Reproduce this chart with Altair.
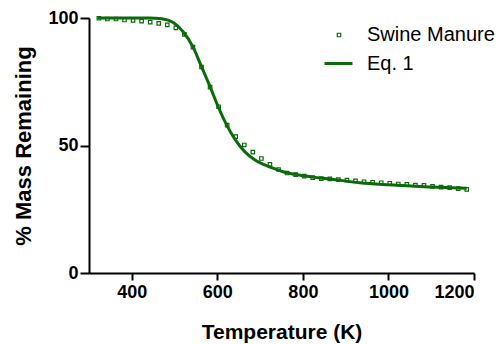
import altair as alt
import pandas as pd

GREEN = "#0b6b0b"
FONT = "Liberation Sans"

# Measured data (Swine Manure)
temp_pts = [323, 343, 363, 383, 403, 423, 443, 463, 483, 503, 523, 543, 563, 583, 603,
            623, 643, 663, 683, 703, 723, 743, 763, 783, 803, 823, 843, 863, 883, 903,
            923, 943, 963, 983, 1003, 1023, 1043, 1063, 1083, 1103, 1123, 1143, 1163, 1183]
mass_pts = [99.9, 99.6, 99.6, 99.2, 99.1, 98.8, 98.4, 97.9, 97.3, 96.1, 93.6, 88.6, 80.8, 72.9, 65.2,
            58.0, 53.5, 50.2, 47.4, 44.9, 42.6, 40.6, 39.2, 38.6, 38.0, 37.4, 37.0, 36.9, 36.6, 36.4,
            36.1, 35.8, 35.6, 35.4, 35.2, 34.9, 34.8, 34.5, 34.4, 34.0, 33.7, 33.5, 33.1, 32.8]

# Fitted curve (Eq. 1)
temp_fit = [320, 380, 440, 470, 497, 520, 543, 563, 583, 602, 622, 641, 664, 688, 711,
            735, 758, 781, 805, 828, 851, 933, 1000, 1074, 1183]
mass_fit = [100.0, 100.0, 100.0, 99.7, 98.2, 94.6, 88.7, 80.9, 73.1, 65.2, 58.0, 52.5, 47.6, 44.3, 42.4,
            40.8, 39.5, 38.7, 38.0, 37.5, 37.1, 35.4, 34.6, 33.9, 33.2]

x_ticks = [400, 600, 800, 1000, 1200]
y_ticks = [0, 50, 100]

df_pts = pd.DataFrame({"T": temp_pts, "M": mass_pts, "series": "Swine Manure"})
df_fit = pd.DataFrame({"T": temp_fit, "M": mass_fit, "series": "Eq. 1"})

xenc = alt.X("T:Q", scale=alt.Scale(domain=[300, 1200], nice=False, zero=False),
             axis=alt.Axis(values=x_ticks, format="d", title="Temperature (K)", titlePadding=20,
                           labelPadding=3, tickSize=7, titleFontSize=21))
yenc = alt.Y("M:Q", scale=alt.Scale(domain=[0, 100], nice=False),
             axis=alt.Axis(values=y_ticks, format="d", title="% Mass Remaining", titlePadding=12,
                           labelPadding=2, tickSize=9, titleFontSize=22))

pts = alt.Chart(df_pts).mark_point(shape="square", filled=False, size=12, strokeWidth=1.2, opacity=1).encode(
    x=xenc, y=yenc,
    color=alt.Color("series:N", scale=alt.Scale(domain=["Swine Manure"], range=[GREEN]),
                    legend=alt.Legend(title=None, orient="none", legendX=240, legendY=7,
                                      symbolType="square", symbolSize=12, symbolStrokeWidth=1.2,
                                      labelOffset=18, labelFontSize=20, labelFont=FONT,
                                      labelColor="black", labelFontWeight="normal"))
)

line = alt.Chart(df_fit).mark_line(strokeWidth=3, interpolate="monotone").encode(
    x=xenc, y=yenc,
    color=alt.Color("series:N", scale=alt.Scale(domain=["Eq. 1"], range=[GREEN]),
                    legend=alt.Legend(title=None, orient="none", legendX=234, legendY=30,
                                      symbolType="stroke", symbolSize=784, symbolStrokeWidth=3,
                                      labelOffset=13, labelFontSize=20, labelFont=FONT,
                                      labelColor="black", labelFontWeight="normal"))
)

chart = alt.layer(pts, line).resolve_scale(color="independent").properties(
    width=385, height=255,
    autosize=alt.AutoSizeParams(type="none"),
    padding={"left": 89, "top": 18, "right": 27, "bottom": 71},
).configure_view(stroke=None).configure_axis(
    grid=False, domainColor="black", domainWidth=2, tickColor="black", tickWidth=2,
    labelFont=FONT, labelFontSize=18, labelFontWeight="bold", labelColor="black",
    titleFont=FONT, titleFontWeight="bold", titleColor="black",
).configure_legend(padding=0)

chart.save("out.html", embed_options={"renderer": "svg", "actions": False})
